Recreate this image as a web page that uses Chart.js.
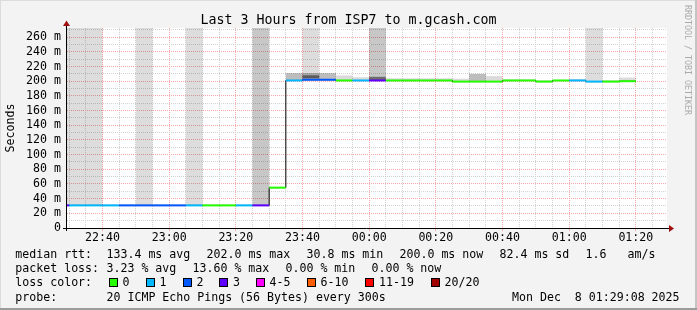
<!DOCTYPE html>
<html>
<head>
<meta charset="utf-8">
<script src="https://cdn.jsdelivr.net/npm/chart.js@4.4.1/dist/chart.umd.min.js"></script>
<style>
  html, body { margin: 0; padding: 0; background: #f3f3f3; }
  #wrap { position: relative; width: 697px; height: 310px; overflow: hidden;
          font-family: "DejaVu Sans Mono", monospace; font-size: 11.6px; color: #000; }
  #wrap canvas { position: absolute; left: 0; top: 0; }
  .t { position: absolute; white-space: pre; line-height: 14px; }
  .box { position: absolute; width: 9px; height: 9px; border: 1px solid #000; box-sizing: border-box; }
  #brand { position: absolute; left: 683px; top: 4.5px; writing-mode: vertical-rl;
           font-size: 8.3px; line-height: 10px; color: #aaa; white-space: pre; }
</style>
</head>
<body>
<div id="wrap">
  <canvas id="smoke" width="697" height="310"></canvas>
  <div id="brand">RRDTOOL / TOBI OETIKER</div>
  <div id="legend"></div>
</div>
<script>
(() => {
  // Intervalos de 5 min (inicio de cada uno); el último termina a las 01:20
  const slots = ["22:25", "22:30", "22:35", "22:40", "22:45", "22:50", "22:55",
    "23:00", "23:05", "23:10", "23:15", "23:20", "23:25", "23:30", "23:35",
    "23:40", "23:45", "23:50", "23:55", "00:00", "00:05", "00:10", "00:15",
    "00:20", "00:25", "00:30", "00:35", "00:40", "00:45", "00:50", "00:55",
    "01:00", "01:05", "01:10", "01:15"];
  const slotEnd = "01:20";

  // rtt mediana (ms) y pings perdidos de 20
  const medianMs = [30.8, 30.8, 30.8, 30.8, 30.8, 30.8, 30.8, 30.8, 30.8, 30.8, 30.8, 30.8, 30.8,
    55, 201, 202, 202, 201, 201, 201, 201, 201, 201, 201, 199.5, 199.5, 199.5,
    201, 201, 199.5, 201, 201, 199.5, 199.5, 200];
  const lostPings = [3, 1, 1, 1, 2, 2, 2, 2, 1, 0, 0, 1, 3, 0, 1, 2, 2, 0, 1, 3,
    0, 0, 0, 0, 0, 0, 0, 0, 0, 0, 0, 1, 1, 0, 0];

  // "humo": rango [min, max] de los pings de cada intervalo (300 = fuera de escala)
  const smokeTallLight = [[30.8, 300], [30.8, 300], [30.8, 300], null, null, [30.8, 300], null, null,
    [30.8, 300], null, null, null, null, null, null, [202, 300], null, null, null, null,
    null, null, null, null, null, null, null, null, null, null, null, null, [199.5, 300], null, null];
  const smokeTallDark = [null, null, null, null, null, null, null, null, null, null, null, null,
    [30.8, 300], null, null, null, null, null, null, [201, 300], null, null, null, null,
    null, null, null, null, null, null, null, null, null, null, null];
  const smokeLight = [null, null, null, null, null, null, null, null, null, null, null, null,
    null, null, null, null, null, [201, 208], [201, 205.5], null, [201, 204], [201, 204],
    [201, 204], [201, 204], [199.5, 203.5], null, [199.5, 207], [201, 202.5], [201, 202.5],
    [199.5, 201.5], null, [201, 203], null, [199.5, 201.5], [200, 205]];
  const smokeMid = [null, null, null, null, null, null, null, null, null, null, null, null,
    null, null, [201, 211], [202, 211], [202, 211], null, null, null, null, null, null, null,
    null, [199.5, 210], null, null, null, null, null, null, null, null, null];
  const smokeDark = [null, null, null, null, null, null, null, null, null, null, null, null,
    null, null, null, [204, 208], null, null, null, [201, 206], null, null, null, null,
    null, null, null, null, null, null, null, null, null, null, null];

  const windowStart = "22:29:21";   // 3 horas hasta 01:29
  const xTickLabels = ["22:40", "23:00", "23:20", "23:40", "00:00", "00:20", "00:40", "01:00", "01:20"];
  const yTickValues = [0, 20, 40, 60, 80, 100, 120, 140, 160, 180, 200, 220, 240, 260];
  const yMax = 272.5;

  const title = "Last 3 Hours from ISP7 to m.gcash.com";
  const lossLabels = ["0", "1", "2", "3", "4-5", "6-10", "11-19", "20/20"];
  const lossColors = ["#26ff00", "#00b8ff", "#0059ff", "#5e00ff", "#ff00fe", "#ff5e00", "#ff0000", "#a10000"];
  const rttStats = ["133.4 ms avg", "202.0 ms max", "30.8 ms min", "200.0 ms now", "82.4 ms sd", "1.6", "am/s"];
  const lossStats = ["3.23 % avg", "13.60 % max", "0.00 % min", "0.00 % now"];
  const probeText = "20 ICMP Echo Pings (56 Bytes) every 300s";
  const stampText = "Mon Dec  8 01:29:08 2025";

  // minutos desde las 22:00
  function toMin(s) {
    const p = s.split(":").map(Number);
    let h = p[0];
    if (h < 12) h += 24;
    return (h - 22) * 60 + p[1] + (p[2] || 0) / 60;
  }
  function hhmm(m) {
    const t = Math.round(22 * 60 + m) % 1440;
    return String(Math.floor(t / 60)).padStart(2, "0") + ":" + String(t % 60).padStart(2, "0");
  }
  function lossClass(n) {
    if (n <= 3) return n;
    if (n <= 5) return 4;
    if (n <= 10) return 5;
    if (n <= 19) return 6;
    return 7;
  }

  const xMin = toMin(windowStart);
  const xMax = xMin + 180;
  const starts = slots.map(toMin);

  const mono = "'DejaVu Sans Mono', monospace";
  const redGrid = "#f6a9a9";
  const grayGrid = "#d2d2d2";

  function smokeData(arr) {
    const out = [];
    arr.forEach((r, i) => { if (r) out.push({ x: starts[i] + 2.5, y: r }); });
    return out;
  }
  function smokeSet(arr, color, order) {
    return {
      type: "bar", data: smokeData(arr), backgroundColor: color, borderWidth: 0,
      grouped: false, categoryPercentage: 1, barPercentage: 1, inflateAmount: 0,
      clip: 0, order: order, yAxisID: "y"
    };
  }

  // línea negra escalonada (saltos verticales)
  const stepLine = starts.map((t, i) => ({ x: t, y: medianMs[i] }));
  stepLine.push({ x: toMin(slotEnd), y: medianMs[medianMs.length - 1] });

  // tramos horizontales con color según pérdida
  const colorLine = [];
  starts.forEach((t, i) => {
    colorLine.push({ x: t, y: medianMs[i] }, { x: t + 5, y: medianMs[i] }, { x: t + 5, y: null });
  });

  const frame = {
    id: "frame",
    beforeDraw(chart) {
      const { ctx, chartArea: a, width, height } = chart;
      ctx.save();
      ctx.fillStyle = "#f3f3f3";
      ctx.fillRect(0, 0, width, height);
      ctx.fillStyle = "#ffffff";
      ctx.fillRect(a.left, a.top, a.right - a.left, a.bottom - a.top);
      ctx.fillStyle = "#dcdcdc";
      ctx.fillRect(0, 0, width, 1);
      ctx.fillRect(0, 0, 1, height);
      ctx.fillStyle = "#c4c4c4";
      ctx.fillRect(width - 2, 0, 2, height);
      ctx.fillStyle = "#9c9c9c";
      ctx.fillRect(0, height - 2, width, 2);
      ctx.restore();
    }
  };

  const axisArrows = {
    id: "axisArrows",
    afterDatasetsDraw(chart) {
      const { ctx, chartArea: a } = chart;
      ctx.save();
      ctx.strokeStyle = "#000";
      ctx.lineWidth = 1;
      ctx.beginPath();
      ctx.moveTo(a.left - 4, a.bottom + 0.5);
      ctx.lineTo(a.right + 3, a.bottom + 0.5);
      ctx.moveTo(a.left - 0.5, a.bottom + 3);
      ctx.lineTo(a.left - 0.5, a.top - 3);
      ctx.stroke();
      ctx.fillStyle = "#a01010";
      ctx.beginPath();
      ctx.moveTo(a.right + 2, a.bottom - 3);
      ctx.lineTo(a.right + 7, a.bottom + 0.5);
      ctx.lineTo(a.right + 2, a.bottom + 4);
      ctx.closePath();
      ctx.fill();
      ctx.beginPath();
      ctx.moveTo(a.left - 4, a.top - 2);
      ctx.lineTo(a.left - 0.5, a.top - 7.5);
      ctx.lineTo(a.left + 3, a.top - 2);
      ctx.closePath();
      ctx.fill();
      ctx.restore();
    }
  };

  new Chart(document.getElementById("smoke"), {
    type: "bar",
    data: {
      datasets: [
        {
          type: "line", data: colorLine, borderColor: lossColors[0], borderWidth: 2,
          pointRadius: 0, spanGaps: false, clip: 0, order: 0, yAxisID: "y",
          segment: { borderColor: c => lossColors[lossClass(lostPings[Math.floor(c.p0DataIndex / 3)])] }
        },
        {
          type: "line", data: stepLine, borderColor: "#000", borderWidth: 1,
          pointRadius: 0, stepped: "before", clip: 0, order: 1, yAxisID: "y"
        },
        smokeSet(smokeDark, "rgba(0,0,0,0.45)", 2),
        smokeSet(smokeMid, "rgba(0,0,0,0.26)", 3),
        smokeSet(smokeLight, "rgba(0,0,0,0.14)", 4),
        smokeSet(smokeTallDark, "rgba(0,0,0,0.22)", 5),
        smokeSet(smokeTallLight, "rgba(0,0,0,0.135)", 6)
      ]
    },
    options: {
      responsive: false,
      animation: false,
      events: [],
      layout: { padding: 0 },
      plugins: {
        legend: { display: false },
        tooltip: { enabled: false },
        title: {
          display: true, text: title, color: "#000",
          font: { family: mono, size: 13.3, weight: "normal", lineHeight: "15px" },
          padding: { top: 13, bottom: 0 }
        }
      },
      scales: {
        x: {
          type: "linear", min: xMin, max: xMax, offset: false,
          afterBuildTicks: axis => {
            const ticks = [];
            for (let m = Math.ceil(xMin / 5) * 5; m < xMax; m += 5) ticks.push({ value: m });
            axis.ticks = ticks;
          },
          afterFit: s => { s.height = 82; },
          grid: {
            offset: false, lineWidth: 1, tickLength: 3,
            color: c => xTickLabels.includes(hhmm(c.tick.value)) ? redGrid : grayGrid,
            tickColor: c => xTickLabels.includes(hhmm(c.tick.value)) ? redGrid : "rgba(0,0,0,0)"
          },
          border: { display: false, dash: [1, 1] },
          ticks: {
            autoSkip: false, maxRotation: 0, padding: 0, color: "#000",
            font: { family: mono, size: 11.6 },
            callback: v => xTickLabels.includes(hhmm(v)) ? hhmm(v) : ""
          }
        },
        y: {
          type: "linear", position: "left", min: 0, max: yMax,
          afterBuildTicks: axis => {
            const ticks = [];
            for (let v = 0; v < yMax; v += 10) ticks.push({ value: v });
            axis.ticks = ticks;
          },
          afterFit: s => { s.width = 67; },
          grid: {
            lineWidth: 1, tickLength: 3,
            color: c => yTickValues.includes(c.tick.value) ? redGrid : grayGrid,
            tickColor: "rgba(0,0,0,0)"
          },
          border: { display: false, dash: [1, 1] },
          ticks: {
            autoSkip: false, padding: 3, color: "#000",
            font: { family: mono, size: 11.6 },
            callback: v => yTickValues.includes(v) ? (v === 0 ? "0" : v + " m") : ""
          },
          title: {
            display: true, text: "Seconds", color: "#000",
            font: { family: mono, size: 11.6 },
            padding: { top: 4, bottom: 0 }
          }
        },
        y2: {
          type: "linear", position: "right", min: 0, max: 1,
          grid: { display: false, drawOnChartArea: false },
          border: { display: false },
          ticks: { display: false },
          afterFit: s => { s.width = 30; }
        }
      }
    },
    plugins: [frame, axisArrows]
  });

  // leyenda de texto bajo el gráfico
  const legend = document.getElementById("legend");
  const rowTop = [247.3, 261.3, 275.4, 289.6];
  const colLabel = 15.3;
  const colValue = 106.5;
  const rttX = [106.5, 206.5, 306.5, 399.5, 499.5, 585.5, 627.5];
  const lossX = [106.5, 192.5, 285.5, 371.5];
  const boxX = [108.5, 145.5, 182.5, 219, 255.5, 306.5, 365, 430.5];

  function put(text, x, y) {
    const d = document.createElement("div");
    d.className = "t";
    d.textContent = text;
    d.style.left = x + "px";
    d.style.top = y + "px";
    legend.appendChild(d);
  }
  put("median rtt:", colLabel, rowTop[0]);
  rttStats.forEach((s, i) => put(s, rttX[i], rowTop[0]));
  put("packet loss:", colLabel, rowTop[1]);
  lossStats.forEach((s, i) => put(s, lossX[i], rowTop[1]));
  put("loss color:", colLabel, rowTop[2]);
  lossLabels.forEach((s, i) => {
    const b = document.createElement("div");
    b.className = "box";
    b.style.left = boxX[i] + "px";
    b.style.top = "278px";
    b.style.background = lossColors[i];
    legend.appendChild(b);
    put(s, boxX[i] + 14, rowTop[2]);
  });
  put("probe:", colLabel, rowTop[3]);
  put(probeText, colValue, rowTop[3]);
  put(stampText, 512, rowTop[3]);
})();
</script>
</body>
</html>
